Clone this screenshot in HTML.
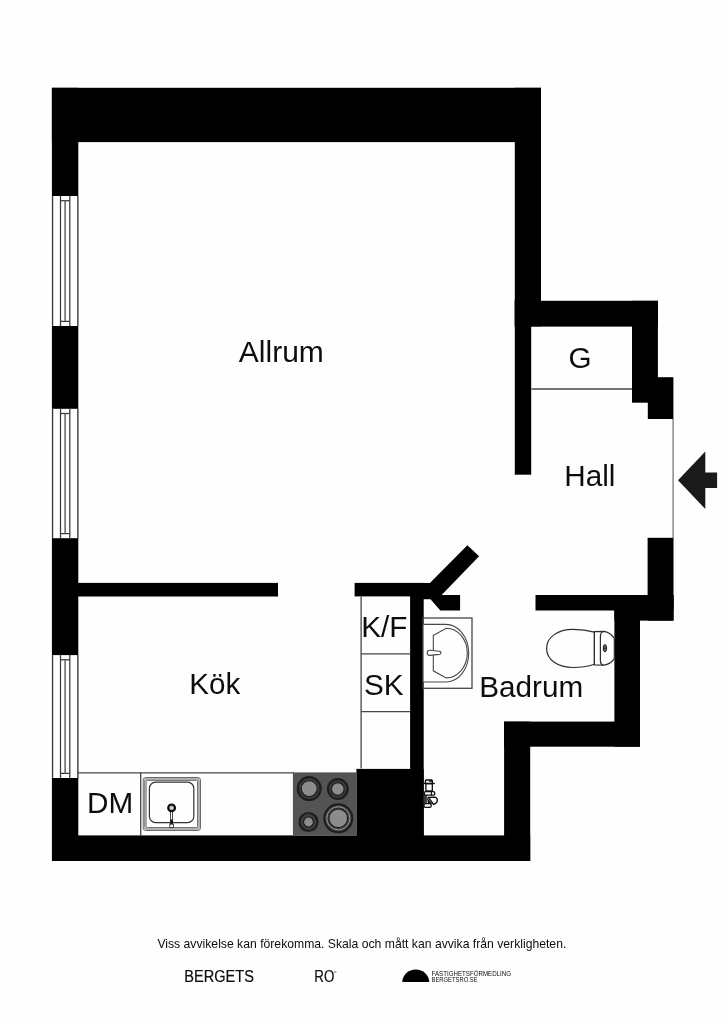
<!DOCTYPE html>
<html>
<head>
<meta charset="utf-8">
<title>Planritning</title>
<style>
html,body{margin:0;padding:0;background:#fefefe;}
body{width:724px;height:1024px;overflow:hidden;position:relative;font-family:"Liberation Sans",sans-serif;}
svg{position:absolute;left:0;top:0;display:block;filter:grayscale(1);}
text{font-family:"Liberation Sans",sans-serif;fill:#0d0d0d;}
.w{fill:#000;}
.l{stroke:#464646;stroke-width:1.3;fill:none;}
.lw{stroke:#4a4a4a;stroke-width:1;fill:#fefefe;}
</style>
</head>
<body>
<svg width="724" height="1024" viewBox="0 0 724 1024">
<rect x="0" y="0" width="724" height="1024" fill="#fefefe"/>

<!-- ===== WALLS ===== -->
<g class="w">
<!-- top wall -->
<rect x="51.9" y="87.8" width="489.1" height="54.3"/>
<!-- left wall full -->
<rect x="51.9" y="87.8" width="26.4" height="773.2"/>
<!-- right wall of allrum upper -->
<rect x="514.8" y="87.8" width="26.2" height="238.5"/>
<!-- right wall of allrum lower (thin) -->
<rect x="514.8" y="300" width="16.4" height="174.7"/>
<!-- G top wall -->
<rect x="514.8" y="300.8" width="143.1" height="25.8"/>
<!-- G right wall -->
<rect x="632" y="300.8" width="25.9" height="101.9"/>
<!-- step block -->
<rect x="647.8" y="377.2" width="25.6" height="41.8"/>
<!-- lower entrance block -->
<rect x="647.6" y="537.8" width="25.9" height="82.8"/>
<!-- hall/bath wall -->
<rect x="535.5" y="595" width="138" height="15.5"/>
<rect x="614.4" y="595" width="59.1" height="25.6"/>
<!-- bath right wall -->
<rect x="614.4" y="595" width="25.6" height="151.7"/>
<!-- step horizontal -->
<rect x="504.1" y="721.6" width="135.9" height="25.1"/>
<!-- step vertical -->
<rect x="504.1" y="721.6" width="26.1" height="139.4"/>
<!-- bottom wall -->
<rect x="52.2" y="835.4" width="478" height="25.6"/>
<!-- bath left wall -->
<rect x="410.1" y="583" width="13.6" height="260"/>
<!-- shaft block -->
<rect x="356.4" y="768.9" width="67.3" height="75"/>
<!-- kitchen partition left -->
<rect x="77" y="582.9" width="201" height="13.6"/>
<!-- kitchen partition right -->
<rect x="354.6" y="582.9" width="70" height="13.5"/>
<!-- diagonal + stub -->
<polygon points="467.4,545.2 479.1,556.2 441.6,595 460.1,595 460.1,610.4 440.4,610.4 430.5,599.3 423,599.3 423,583 429.9,582.9"/>
</g>

<!-- ===== WINDOWS ===== -->
<g>
<rect x="51.8" y="196" width="26.6" height="130.0" fill="#fefefe"/>
<g stroke="#383838" stroke-width="1.25" fill="none">
<line x1="52.6" y1="196" x2="52.6" y2="326"/>
<line x1="77.8" y1="196" x2="77.8" y2="326"/>
<line x1="60.5" y1="196" x2="60.5" y2="326"/>
<line x1="69.8" y1="196" x2="69.8" y2="326"/>
<line x1="60.5" y1="200.7" x2="69.8" y2="200.7"/>
<line x1="60.5" y1="321.4" x2="69.8" y2="321.4"/>
</g>
<line x1="65.1" y1="200.7" x2="65.1" y2="321.4" stroke="#555" stroke-width="1.4"/>
</g>
<g>
<rect x="51.8" y="408.8" width="26.6" height="129.4" fill="#fefefe"/>
<g stroke="#383838" stroke-width="1.25" fill="none">
<line x1="52.6" y1="408.8" x2="52.6" y2="538.2"/>
<line x1="77.8" y1="408.8" x2="77.8" y2="538.2"/>
<line x1="60.5" y1="408.8" x2="60.5" y2="538.2"/>
<line x1="69.8" y1="408.8" x2="69.8" y2="538.2"/>
<line x1="60.5" y1="413.5" x2="69.8" y2="413.5"/>
<line x1="60.5" y1="533.6" x2="69.8" y2="533.6"/>
</g>
<line x1="65.1" y1="413.5" x2="65.1" y2="533.6" stroke="#555" stroke-width="1.4"/>
</g>
<g>
<rect x="51.8" y="655.1" width="26.6" height="122.9" fill="#fefefe"/>
<g stroke="#383838" stroke-width="1.25" fill="none">
<line x1="52.6" y1="655.1" x2="52.6" y2="778"/>
<line x1="77.8" y1="655.1" x2="77.8" y2="778"/>
<line x1="60.5" y1="655.1" x2="60.5" y2="778"/>
<line x1="69.8" y1="655.1" x2="69.8" y2="778"/>
<line x1="60.5" y1="659.8" x2="69.8" y2="659.8"/>
<line x1="60.5" y1="773.4" x2="69.8" y2="773.4"/>
</g>
<line x1="65.1" y1="659.8" x2="65.1" y2="773.4" stroke="#555" stroke-width="1.4"/>
</g>

<!-- ===== THIN LINES ===== -->
<g class="l">
<line x1="77.7" y1="772.8" x2="294" y2="772.8"/>
<line x1="140.7" y1="772.8" x2="140.7" y2="835.4"/>
<line x1="361.1" y1="596.6" x2="361.1" y2="768.6"/>
<line x1="361.1" y1="653.9" x2="410.3" y2="653.9"/>
<line x1="361.1" y1="711.6" x2="410.3" y2="711.6"/>
<line x1="531.4" y1="389" x2="632" y2="389"/>
<line x1="673.1" y1="419" x2="673.1" y2="538" stroke="#808080" stroke-width="1.4"/>
<rect x="423" y="618" width="49" height="70.3"/>
</g>


<!-- ===== KITCHEN SINK ===== -->
<g>
<rect x="143.2" y="777.5" width="57.3" height="53" rx="2.6" fill="#e6e6e6" stroke="#3c3c3c" stroke-width="0.75"/>
<rect x="144.7" y="779" width="54.3" height="50" rx="1.8" fill="#ececec" stroke="#4a4a4a" stroke-width="0.7"/>
<rect x="146.1" y="780.4" width="51.5" height="47.2" rx="1.2" fill="#fefefe" stroke="#3c3c3c" stroke-width="0.75"/>
<rect x="149.4" y="782.2" width="44.4" height="40.4" rx="6.2" fill="#fefefe" stroke="#333" stroke-width="1.2"/>
<rect x="170.6" y="808" width="2" height="16.5" fill="#fefefe" stroke="#222" stroke-width="0.8"/>
<rect x="170.4" y="819.5" width="2.4" height="5" fill="#111"/>
<circle cx="171.6" cy="807.9" r="3.4" fill="#aaa" stroke="#0a0a0a" stroke-width="2.1"/>
<circle cx="171.6" cy="807.9" r="1.1" fill="#f0f0f0"/>
<rect x="169.8" y="824.2" width="3.6" height="3.2" fill="#fefefe" stroke="#222" stroke-width="0.8"/>
</g>

<!-- ===== STOVE ===== -->
<g>
<rect x="292.9" y="772.4" width="63.8" height="63.1" fill="#545454"/>
<g fill="none" stroke="#1e1e1e">
<circle cx="309.2" cy="788.6" r="11.4" stroke-width="2.2" fill="#3e3e3e"/>
<circle cx="309.2" cy="788.6" r="8" stroke-width="1.2" fill="#8c8c8c"/>
<circle cx="337.8" cy="789" r="9.8" stroke-width="2.2" fill="#3e3e3e"/>
<circle cx="337.8" cy="789" r="6.4" stroke-width="1.2" fill="#8c8c8c"/>
<circle cx="308.5" cy="822" r="9" stroke-width="2.2" fill="#3e3e3e"/>
<circle cx="308.5" cy="822" r="5" stroke-width="1.2" fill="#8c8c8c"/>
<circle cx="338.3" cy="818.3" r="14" stroke-width="2" fill="#3e3e3e"/>
<circle cx="338.3" cy="818.3" r="11.6" stroke-width="1" stroke="#9a9a9a"/>
<circle cx="338.3" cy="818.3" r="9.4" stroke-width="1.2" fill="#8c8c8c"/>
</g>
</g>

<!-- ===== BATHROOM SINK ===== -->
<g fill="#fefefe" stroke="#4a4a4a" stroke-width="1.1">
<path d="M423.6,624.4 L445.8,624.4 A22.9,28.8 0 0 1 445.8,682 L423.6,682"/>
<path d="M433.3,635.6 L446.2,628.2 A21.1,24.85 0 0 1 446.2,677.9 L433.3,670.8 Z"/>
<path d="M429.6,650.2 C432,650.2 438,651.2 440,651.4 C441.2,651.6 441.2,654 440,654.2 C438,654.4 432,655.4 429.6,655.4 C426.4,655.4 426.4,650.2 429.6,650.2 Z"/>
</g>

<!-- ===== TOILET ===== -->
<g fill="#fefefe" stroke="#2e2e2e" stroke-width="1.2">
<path d="M594.4,632.2 C588,630.4 580,629.4 573,629.4 C558,629.4 546.6,637 546.6,648.4 C546.6,659.8 558,667.5 573,667.5 C580,667.5 588,666.4 594.4,664.3 Z"/>
<path d="M594.4,631.6 L604,631.4 C609,632 612,635 614.3,638.2 L614.3,658.7 C612,662 609,664.6 604,665.2 L594.4,664.8 Z"/>
<path d="M603.4,631.5 C601.2,632 600.4,634 600.4,636.4 L600.4,660.4 C600.4,662.6 601.2,664.6 603.4,665.1" fill="none"/>
<ellipse cx="604.9" cy="648.2" rx="1.7" ry="3.7" fill="#666" stroke="#1a1a1a" stroke-width="0.9"/>
<line x1="603.2" y1="648.2" x2="606.6" y2="648.2" stroke="#111" stroke-width="0.9"/>
</g>

<!-- ===== SHOWER MIXER ===== -->
<g fill="#fefefe" stroke="#0c0c0c" stroke-width="1.3">
<rect x="423.7" y="795" width="3.2" height="8.6" fill="#3a3a3a" stroke="none"/>
<rect x="425.4" y="780" width="7" height="3.3" rx="0.9"/>
<rect x="429.3" y="779.9" width="3" height="1.9" fill="#111" stroke="none"/>
<line x1="423.6" y1="783.5" x2="434.8" y2="783.5"/>
<rect x="425.9" y="783.8" width="6.4" height="7.2"/>
<rect x="424.2" y="791.7" width="10.6" height="3.5" rx="1.6"/>
<line x1="431.4" y1="791.7" x2="431.4" y2="795.2" stroke-width="1.1"/>
<path d="M428.4,797.4 L434.4,797.1 C437.8,797.4 438.4,801.6 435.6,803.4 L433.6,804.4 Z" stroke-width="1.4"/>
<path d="M426.6,797 L432.6,804.4 L428,803 Z" fill="#111" stroke="none"/>
<rect x="424" y="803.6" width="7.2" height="3.8" rx="1.7"/>
</g>

<!-- ===== ARROW ===== -->
<polygon points="678,480.2 705.3,451.5 705.3,472.6 717.1,472.6 717.1,487.9 705.3,487.9 705.3,508.9" fill="#1a1a1a"/>

<!-- ===== LABELS ===== -->
<g font-size="29.7">
<text x="238.8" y="362.3" font-size="30">Allrum</text>
<text x="568.6" y="368">G</text>
<text x="564.3" y="485.9" font-size="29.7">Hall</text>
<text x="189.3" y="694" font-size="29.6">Kök</text>
<text x="361.3" y="636.7">K/F</text>
<text x="364" y="694.6">SK</text>
<text x="479.2" y="697">Badrum</text>
<text x="87" y="813">DM</text>
</g>

<!-- ===== FOOTER ===== -->
<text x="157.4" y="948" font-size="12.19">Viss avvikelse kan förekomma. Skala och mått kan avvika från verkligheten.</text>
<text x="184.3" y="982.4" font-size="15.6" textLength="69.6" lengthAdjust="spacingAndGlyphs" stroke="#0d0d0d" stroke-width="0.2">BERGETS</text>
<text x="314.3" y="982.4" font-size="15.6" textLength="20" lengthAdjust="spacingAndGlyphs" stroke="#0d0d0d" stroke-width="0.2">RO</text>
<path d="M334.6,971.2 v1.6 M335.9,971.2 v1.6" stroke="#555" stroke-width="0.7" fill="none"/>
<path d="M402.3,982 A13.45,12.5 0 0 1 429.2,982 Z" fill="#000"/>
<text x="431.6" y="975.5" font-size="6.7" textLength="79.4" lengthAdjust="spacingAndGlyphs" fill="#222">FASTIGHETSFÖRMEDLING</text>
<text x="431.6" y="982.2" font-size="6.7" textLength="46" lengthAdjust="spacingAndGlyphs" fill="#222">BERGETSRO.SE</text>

</svg>
</body>
</html>
